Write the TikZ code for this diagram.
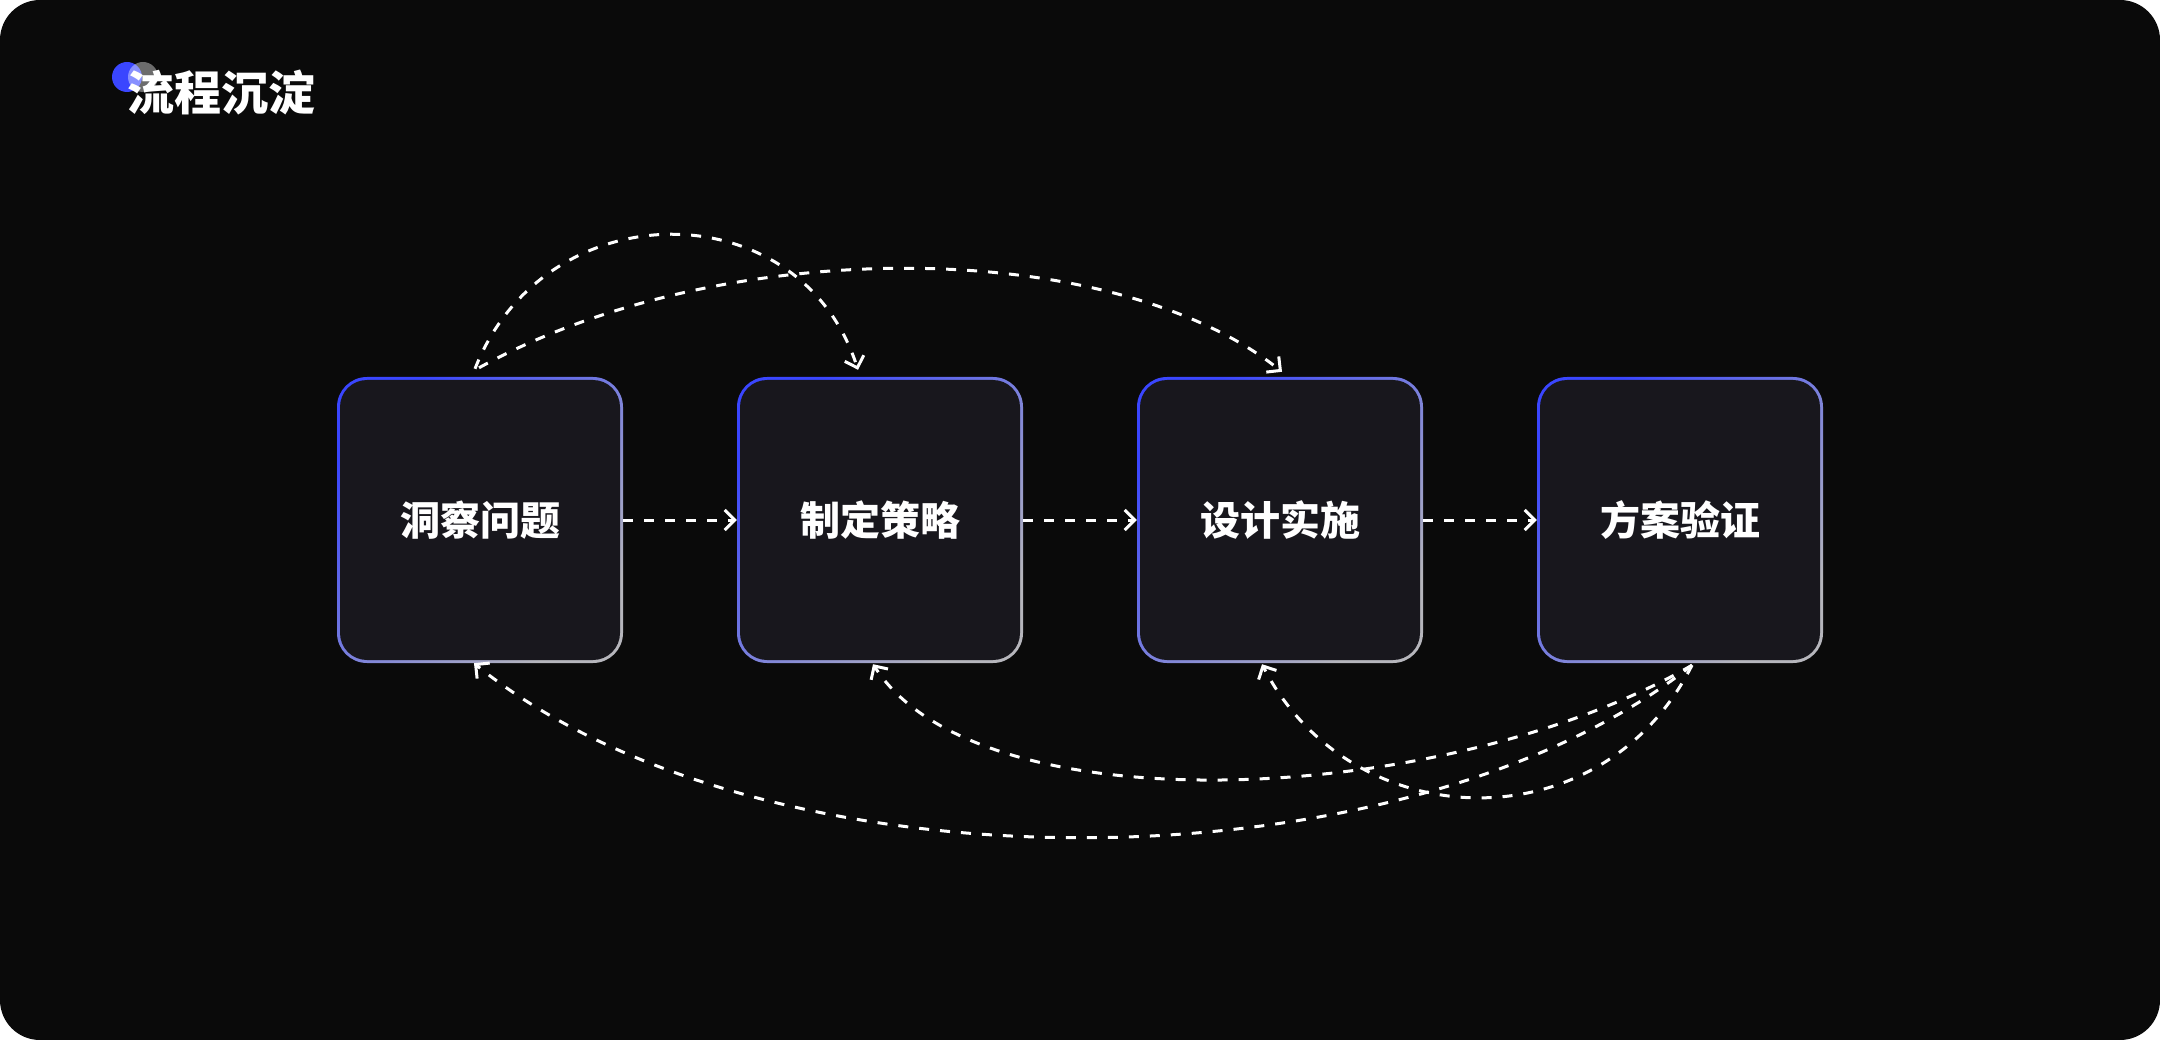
\documentclass[tikz,border=0pt]{standalone}
\usepackage{fontspec}
\newfontfamily\cjk{Noto Sans CJK SC}
\usetikzlibrary{arrows.meta}
\definecolor{bg}{HTML}{0A0A0A}
\definecolor{boxfill}{HTML}{18171D}
\definecolor{bluec}{HTML}{3A46FF}
\definecolor{grayc}{HTML}{B6B6BC}
\begin{document}
\begin{tikzpicture}[x=1pt,y=-1pt,
  box/.style={minimum width=286pt, minimum height=286pt, rounded corners=30pt, inner sep=0pt,
    top color=bluec, bottom color=grayc, shading angle=45, text=white,
    font=\cjk\bfseries\fontsize{40}{40}\selectfont,
    path picture={\fill[boxfill, rounded corners=27pt]
      ([shift={(3,3)}]path picture bounding box.north west) rectangle
      ([shift={(-3,-3)}]path picture bounding box.south east);}},
  link/.style={draw=white, line width=3pt, dash pattern=on 10pt off 11pt},
  tip/.style={-{Straight Barb[length=10pt,width=20pt]}}]
\useasboundingbox (0,0) rectangle (2160,1040);
\fill[white] (0,0) rectangle (2160,1040);
\fill[bg, rounded corners=40pt] (0,0) rectangle (2160,1040);
% title
\fill[bluec] (127,77) circle[radius=15];
\fill[white, fill opacity=0.4] (143,77) circle[radius=15];
\node[anchor=base, text=white, inner sep=0pt, font=\cjk\bfseries\fontsize{47}{47}\selectfont] (title) at (221,111) {流程沉淀};
% boxes
\node[box] (n1) at (480,520) {洞察问题};
\node[box] (n2) at (880,520) {制定策略};
\node[box] (n3) at (1280,520) {设计实施};
\node[box] (n4) at (1680,520) {方案验证};
% straight links
\draw[link,tip] (n1.east) -- (n2.west);
\draw[link,tip] (n2.east) -- (n3.west);
\draw[link,tip] (n3.east) -- (n4.west);
% top arcs
\draw[link,tip] ([shift={(-5,-8)}]n1.north) .. controls +(70,-179) and +(-58,-180) .. ([shift={(-22,-7)}]n2.north);
\draw[link,tip] ([shift={(-1,-9)}]n1.north) .. controls +(241,-133) and +(-172,-137) .. ([shift={(2,-5)}]n3.north);
% bottom arcs
\draw[link,tip] ([shift={(12,2)}]n4.south) .. controls +(-292,230) and +(286,232) .. ([shift={(-6,0)}]n1.south);
\draw[link,tip] ([shift={(12,2)}]n4.south) .. controls +(-242,140) and +(107,166) .. ([shift={(-7,1)}]n2.south);
\draw[link,tip] ([shift={(12,2)}]n4.south) .. controls +(-92,182) and +(88,172) .. ([shift={(-18,1)}]n3.south);
\end{tikzpicture}
\end{document}
